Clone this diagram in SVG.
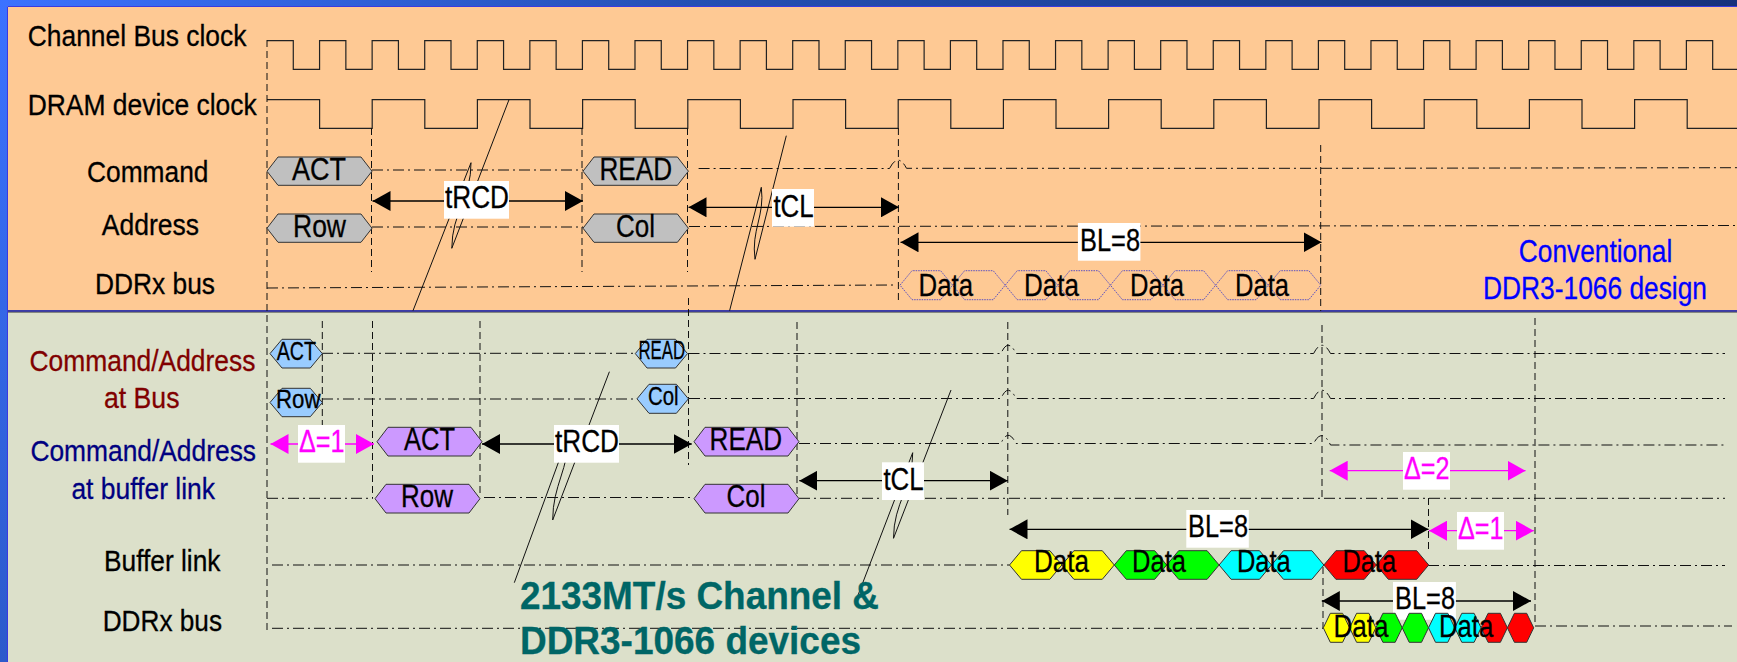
<svg xmlns="http://www.w3.org/2000/svg" width="1737" height="662" viewBox="0 0 1737 662">
<style>
text{font-family:"Liberation Sans",Arial,sans-serif;font-size:30px;fill:#000;stroke:#000;stroke-width:.3}
.s{font-size:32px}.m{font-size:25px}
.teal{font-size:38px;font-weight:bold;fill:#006666;stroke:#006666}
.mag{fill:#f0f;stroke:#f0f}
.dr{fill:#800000;stroke:#800000}
.nv{fill:#000080;stroke:#000080}
.bl{fill:#00f;stroke:#00f}
.clk{fill:none;stroke:#222;stroke-width:1.2}
.v{fill:none;stroke:#111;stroke-width:1;stroke-dasharray:7 4}
.h{fill:none;stroke:#111;stroke-width:1;stroke-dasharray:11 4 2 4}
.brk{fill:none;stroke:#111;stroke-width:1}
.arr{fill:none;stroke:#000;stroke-width:1.3;marker-start:url(#ah);marker-end:url(#ah)}
.amg{fill:none;stroke:#f0f;stroke-width:1.3;marker-start:url(#am);marker-end:url(#am)}
.hx{stroke:#333;stroke-width:1}
.g{fill:#c0c0c0}.b{fill:#99ccff}.p{fill:#cc99ff}
.y{fill:#ff0}.gr{fill:#0f0}.c{fill:#0ff}.r{fill:#f00}
.o{fill:none;stroke:#3333cc;stroke-width:.8;stroke-dasharray:1.5 1}
.w{fill:#fff}
</style>
<defs>
<marker id="ah" markerUnits="userSpaceOnUse" viewBox="0 0 18 20" refX="18" refY="10" markerWidth="18" markerHeight="20" orient="auto-start-reverse"><path d="M0,0L18,10L0,20Z" fill="#000"/></marker>
<marker id="am" markerUnits="userSpaceOnUse" viewBox="0 0 18 20" refX="18" refY="10" markerWidth="18" markerHeight="20" orient="auto-start-reverse"><path d="M0,0L18,10L0,20Z" fill="#f0f"/></marker>
<linearGradient id="bar" x1="0" x2="1" y1="0" y2="0"><stop offset="0" stop-color="#3b72ff"/><stop offset=".4" stop-color="#2450b4"/><stop offset="1" stop-color="#16327c"/></linearGradient>
<linearGradient id="side" x1="0" x2="0" y1="0" y2="1"><stop offset="0" stop-color="#3b72ff"/><stop offset="1" stop-color="#2c5acb"/></linearGradient>
</defs>

<g id="background">
<rect x="0" y="0" width="1737" height="662" fill="#dce0ca"/>
<rect x="8" y="7" width="1729" height="304" fill="#fec994"/>
<rect x="0" y="0" width="1737" height="6" fill="url(#bar)"/>
<rect x="0" y="0" width="7" height="662" fill="url(#side)"/>
<path d="M7.5,662V6.5H1737" fill="none" stroke="#3a3ae0" stroke-width="1"/>
<path d="M8,311H1737" fill="none" stroke="#3c3ca8" stroke-width="2"/>
<path d="M8,312.3H1737" fill="none" stroke="#555" stroke-width=".8"/>
</g>

<g id="connectors">
<path class="clk" d="M267,40.7h26.285v28.6h26.285v-28.6h26.285v28.6h26.285v-28.6h26.285v28.6h26.285v-28.6h26.285v28.6h26.285v-28.6h26.285v28.6h26.285v-28.6h26.285v28.6h26.285v-28.6h26.285v28.6h26.285v-28.6h26.285v28.6h26.285v-28.6h26.285v28.6h26.285v-28.6h26.285v28.6h26.285v-28.6h26.285v28.6h26.285v-28.6h26.285v28.6h26.285v-28.6h26.285v28.6h26.285v-28.6h26.285v28.6h26.285v-28.6h26.285v28.6h26.285v-28.6h26.285v28.6h26.285v-28.6h26.285v28.6h26.285v-28.6h26.285v28.6h26.285v-28.6h26.285v28.6h26.285v-28.6h26.285v28.6h26.285v-28.6h26.285v28.6h26.285v-28.6h26.285v28.6h26.285v-28.6h26.285v28.6h26.285v-28.6h26.285v28.6h26.285v-28.6h26.285v28.6h26.285v-28.6h26.285v28.6h26.285v-28.6h26.285v28.6h26.285v-28.6h26.285v28.6h30"/>
<path class="clk" d="M267,99.7h52.6v28.6h52.6v-28.6h52.6v28.6h52.6v-28.6h52.6v28.6h52.6v-28.6h52.6v28.6h52.6v-28.6h52.6v28.6h52.6v-28.6h52.6v28.6h52.6v-28.6h52.6v28.6h52.6v-28.6h52.6v28.6h52.6v-28.6h52.6v28.6h52.6v-28.6h52.6v28.6h52.6v-28.6h52.6v28.6h52.6v-28.6h52.6v28.6h52.6v-28.6h52.6v28.6h52.6v-28.6h52.6v28.6h52.6v-28.6h52.6v28.6h60"/>

<path class="v" d="M267,40V633"/>
<path class="v" d="M371.5,128V272"/>
<path class="v" d="M582,128V272"/>
<path class="v" d="M687.5,128V272"/>
<path class="v" d="M688.5,298V465"/>
<path class="v" d="M898.4,128V300"/>
<path class="v" d="M1320.7,145V311"/>
<path class="v" d="M322.3,321V435"/>
<path class="v" d="M372.5,321V498"/>
<path class="v" d="M480,321V497"/>
<path class="v" d="M797,322V498"/>
<path class="v" d="M1007.8,322V515"/>
<path class="v" d="M1322,325V500"/>
<path class="v" d="M1535,318V626"/>
<path class="v" d="M1428.5,498V552"/>
<path class="v" d="M1323,567V628"/>

<path class="h" d="M372,170H583"/>
<path class="h" d="M372,227H583"/>
<path class="h" d="M698.6,168.5H889.5Q898,152 906.5,168.3H1320.7L1737,167.7"/>
<path class="h" d="M689,226.5L1737,225.5"/>
<path class="h" d="M267,288L895,285"/>
<path class="h" d="M322,353.3H636"/>
<path class="h" d="M688.5,353.5H1001Q1008,337 1016,353.5H1313.6Q1322,337 1330.5,353.5H1725"/>
<path class="h" d="M322,399H638"/>
<path class="h" d="M689,398.5H1001Q1008,382 1016,398.5H1313.6Q1322,382 1330.5,398.5H1725"/>
<path class="h" d="M799,443.5H1001Q1008,427 1016,443.5H1313.6Q1322,427 1330.5,445H1725"/>
<path class="h" d="M267,498.3H373"/>
<path class="h" d="M484,497.5H694"/>
<path class="h" d="M799,498.3H1725"/>
<path class="h" d="M272,565H1009.6"/>
<path class="h" d="M1428,565.5H1725"/>
<path class="h" d="M272,628.3H1323"/>
<path class="h" d="M1535,626H1732"/>

<path class="brk" d="M509,99.7L451.8,248.3C451.8,213 471.4,197 471,162.7L413,310.7"/>
<path class="brk" d="M786.3,135.7L755,259.3C751,230 765,216 761.3,187.3L729.6,310.7"/>
<path class="brk" d="M609.4,371.7L552.7,520C552.7,485 569,469 568.7,434.3L514.3,582.7"/>
<path class="brk" d="M951,390L893.5,538.3C893.5,503 913,487 912.7,452.7L855.5,601.7"/>

<path class="arr" d="M372.5,201H583"/>
<path class="arr" d="M688.5,207.3H899"/>
<path class="arr" d="M900.5,242.3H1321.5"/>
<path class="amg" d="M270.5,444H374"/>
<path class="arr" d="M482,444H691.7"/>
<path class="arr" d="M799.3,480.7H1007.8"/>
<path class="arr" d="M1009.5,529.3H1428.5"/>
<path class="amg" d="M1329.7,470.7H1525.5"/>
<path class="amg" d="M1429,530.7H1533.8"/>
<path class="arr" d="M1321.8,601H1531"/>
</g>

<g id="label-channel-clock"><text x="27.7" y="45.7" textLength="218.7" lengthAdjust="spacingAndGlyphs">Channel Bus clock</text></g>
<g id="label-dram-clock"><text x="27.7" y="115" textLength="229" lengthAdjust="spacingAndGlyphs">DRAM device clock</text></g>
<g id="label-command"><text x="87" y="182" textLength="121.5" lengthAdjust="spacingAndGlyphs">Command</text></g>
<g id="label-address"><text x="101.8" y="235.3" textLength="97.2" lengthAdjust="spacingAndGlyphs">Address</text></g>
<g id="label-ddrx-top"><text x="95" y="294" textLength="120" lengthAdjust="spacingAndGlyphs">DDRx bus</text></g>
<g id="label-bus"><text class="dr" x="29.5" y="370.7" textLength="225.9" lengthAdjust="spacingAndGlyphs">Command/Address</text><text class="dr" x="104" y="408.3" textLength="75.5" lengthAdjust="spacingAndGlyphs">at Bus</text></g>
<g id="label-link"><text class="nv" x="30.4" y="460.7" textLength="225.6" lengthAdjust="spacingAndGlyphs">Command/Address</text><text class="nv" x="71.4" y="499" textLength="143.6" lengthAdjust="spacingAndGlyphs">at buffer link</text></g>
<g id="label-buffer"><text x="104" y="570.7" textLength="116.5" lengthAdjust="spacingAndGlyphs">Buffer link</text></g>
<g id="label-ddrx-bottom"><text x="102.7" y="630.7" textLength="119.3" lengthAdjust="spacingAndGlyphs">DDRx bus</text></g>

<g id="top-act"><polygon class="hx g" points="267,171.2 278,157 361,157 372,171.2 361,185.3 278,185.3"/><text class="s" x="292" y="180" textLength="54" lengthAdjust="spacingAndGlyphs">ACT</text></g>
<g id="top-row"><polygon class="hx g" points="267,228.2 278,214 361,214 372,228.2 361,242.3 278,242.3"/><text class="s" x="293" y="237" textLength="53" lengthAdjust="spacingAndGlyphs">Row</text></g>
<g id="top-read"><polygon class="hx g" points="583,171.2 594,157 677.4,157 688.4,171.2 677.4,185.3 594,185.3"/><text class="s" x="599.5" y="180" textLength="72.5" lengthAdjust="spacingAndGlyphs">READ</text></g>
<g id="top-col"><polygon class="hx g" points="583,228.2 594,214 677.4,214 688.4,228.2 677.4,242.3 594,242.3"/><text class="s" x="616" y="237" textLength="39" lengthAdjust="spacingAndGlyphs">Col</text></g>

<g id="top-data">
<polygon class="o" points="900,285.2 912,270.7 940.6,270.7 952.6,285.2 940.6,299.7 912,299.7"/>
<polygon class="o" points="952.6,285.2 964.6,270.7 993.2,270.7 1005.2,285.2 993.2,299.7 964.6,299.7"/>
<polygon class="o" points="1005.2,285.2 1017.2,270.7 1045.8,270.7 1057.8,285.2 1045.8,299.7 1017.2,299.7"/>
<polygon class="o" points="1057.8,285.2 1069.8,270.7 1098.4,270.7 1110.4,285.2 1098.4,299.7 1069.8,299.7"/>
<polygon class="o" points="1110.4,285.2 1122.4,270.7 1151,270.7 1163,285.2 1151,299.7 1122.4,299.7"/>
<polygon class="o" points="1163,285.2 1175,270.7 1203.6,270.7 1215.6,285.2 1203.6,299.7 1175,299.7"/>
<polygon class="o" points="1215.6,285.2 1227.6,270.7 1256.2,270.7 1268.2,285.2 1256.2,299.7 1227.6,299.7"/>
<polygon class="o" points="1268.2,285.2 1280.2,270.7 1308.8,270.7 1320.8,285.2 1308.8,299.7 1280.2,299.7"/>
<text class="s" x="918.5" y="296" textLength="54.5" lengthAdjust="spacingAndGlyphs">Data</text>
<text class="s" x="1024" y="296" textLength="55" lengthAdjust="spacingAndGlyphs">Data</text>
<text class="s" x="1130" y="296" textLength="54" lengthAdjust="spacingAndGlyphs">Data</text>
<text class="s" x="1235" y="296" textLength="54" lengthAdjust="spacingAndGlyphs">Data</text>
</g>

<g id="bus-act"><polygon class="hx b" points="270,353.6 282,339.3 310.3,339.3 322.3,353.6 310.3,368 282,368"/><text class="m" x="276.8" y="360" textLength="39.2" lengthAdjust="spacingAndGlyphs">ACT</text></g>
<g id="bus-row"><polygon class="hx b" points="270,402.5 282,388.3 310.3,388.3 322.3,402.5 310.3,416.7 282,416.7"/><text class="m" x="276" y="408.3" textLength="44.5" lengthAdjust="spacingAndGlyphs">Row</text></g>
<g id="bus-read"><polygon class="hx b" points="635.3,353.6 647,339.3 675.5,339.3 687.5,353.6 675.5,368 647,368"/><text class="m" x="638.4" y="359.3" textLength="46.6" lengthAdjust="spacingAndGlyphs">READ</text></g>
<g id="bus-col"><polygon class="hx b" points="637,398.8 649,384.3 676.4,384.3 688.4,398.8 676.4,413.3 649,413.3"/><text class="m" x="648" y="405" textLength="30.6" lengthAdjust="spacingAndGlyphs">Col</text></g>

<g id="link-act"><polygon class="hx p" points="377,441.7 388,427.3 471,427.3 482,441.7 471,456 388,456"/><text class="s" x="404" y="450" textLength="51" lengthAdjust="spacingAndGlyphs">ACT</text></g>
<g id="link-row"><polygon class="hx p" points="375,498.7 386,484.3 469,484.3 480,498.7 469,513 386,513"/><text class="s" x="401" y="507.3" textLength="52" lengthAdjust="spacingAndGlyphs">Row</text></g>
<g id="link-read"><polygon class="hx p" points="694,441.7 705,427.3 788,427.3 799,441.7 788,456 705,456"/><text class="s" x="709.6" y="450" textLength="72.4" lengthAdjust="spacingAndGlyphs">READ</text></g>
<g id="link-col"><polygon class="hx p" points="694,498.7 705,484.3 788,484.3 799,498.7 788,513 705,513"/><text class="s" x="726.5" y="506.7" textLength="38.9" lengthAdjust="spacingAndGlyphs">Col</text></g>

<g id="buffer-data">
<polygon class="hx y" points="1009.5,565 1021.5,550.7 1049.9,550.7 1061.9,565 1049.9,579.3 1021.5,579.3"/>
<polygon class="hx y" points="1061.9,565 1073.9,550.7 1102.3,550.7 1114.3,565 1102.3,579.3 1073.9,579.3"/>
<polygon class="hx gr" points="1114.3,565 1126.3,550.7 1154.7,550.7 1166.7,565 1154.7,579.3 1126.3,579.3"/>
<polygon class="hx gr" points="1166.7,565 1178.7,550.7 1207.1,550.7 1219.1,565 1207.1,579.3 1178.7,579.3"/>
<polygon class="hx c" points="1219.1,565 1231.1,550.7 1259.5,550.7 1271.5,565 1259.5,579.3 1231.1,579.3"/>
<polygon class="hx c" points="1271.5,565 1283.5,550.7 1311.9,550.7 1323.9,565 1311.9,579.3 1283.5,579.3"/>
<polygon class="hx r" points="1323.9,565 1335.9,550.7 1364.3,550.7 1376.3,565 1364.3,579.3 1335.9,579.3"/>
<polygon class="hx r" points="1376.3,565 1388.3,550.7 1416.7,550.7 1428.7,565 1416.7,579.3 1388.3,579.3"/>
<text class="s" x="1034" y="571.7" textLength="55" lengthAdjust="spacingAndGlyphs">Data</text>
<text class="s" x="1132" y="571.7" textLength="54" lengthAdjust="spacingAndGlyphs">Data</text>
<text class="s" x="1236.9" y="571.7" textLength="53.9" lengthAdjust="spacingAndGlyphs">Data</text>
<text class="s" x="1342.4" y="571.7" textLength="53.6" lengthAdjust="spacingAndGlyphs">Data</text>
</g>

<g id="arrow-labels">
<rect class="w" x="444" y="181" width="65" height="37.7"/><text class="s" x="445" y="208" textLength="64" lengthAdjust="spacingAndGlyphs">tRCD</text>
<rect class="w" x="772" y="189" width="42" height="37.7"/><text class="s" x="773.4" y="216.7" textLength="40.2" lengthAdjust="spacingAndGlyphs">tCL</text>
<rect class="w" x="1077.9" y="223" width="62.5" height="37.7"/><text class="s" x="1080" y="250.7" textLength="60" lengthAdjust="spacingAndGlyphs">BL=8</text>
<rect class="w" x="298" y="425" width="47" height="37.7"/><text class="s mag" x="299" y="452.3" textLength="45.5" lengthAdjust="spacingAndGlyphs">Δ=1</text>
<rect class="w" x="554" y="425" width="65" height="37.7"/><text class="s" x="555" y="452.3" textLength="64" lengthAdjust="spacingAndGlyphs">tRCD</text>
<rect class="w" x="882" y="462.3" width="42" height="37.7"/><text class="s" x="883.4" y="490" textLength="40.2" lengthAdjust="spacingAndGlyphs">tCL</text>
<rect class="w" x="1186.3" y="510" width="62.5" height="37.7"/><text class="s" x="1188" y="537.3" textLength="60" lengthAdjust="spacingAndGlyphs">BL=8</text>
<rect class="w" x="1403" y="452" width="47" height="37.7"/><text class="s mag" x="1404" y="479.3" textLength="45.5" lengthAdjust="spacingAndGlyphs">Δ=2</text>
<rect class="w" x="1457" y="512" width="47" height="37.7"/><text class="s mag" x="1458" y="539.3" textLength="45.5" lengthAdjust="spacingAndGlyphs">Δ=1</text>
<rect class="w" x="1393" y="582" width="62.9" height="37.7"/><text class="s" x="1395" y="609.3" textLength="60" lengthAdjust="spacingAndGlyphs">BL=8</text>
</g>

<g id="ddrx-data">
<polygon class="hx y" points="1323.3,627.8 1330.3,613.3 1342.6,613.3 1349.6,627.8 1342.6,642.3 1330.3,642.3"/>
<polygon class="hx y" points="1349.6,627.8 1356.6,613.3 1368.9,613.3 1375.9,627.8 1368.9,642.3 1356.6,642.3"/>
<polygon class="hx gr" points="1375.9,627.8 1382.9,613.3 1395.2,613.3 1402.2,627.8 1395.2,642.3 1382.9,642.3"/>
<polygon class="hx gr" points="1402.2,627.8 1409.2,613.3 1421.5,613.3 1428.5,627.8 1421.5,642.3 1409.2,642.3"/>
<polygon class="hx c" points="1428.5,627.8 1435.5,613.3 1447.8,613.3 1454.8,627.8 1447.8,642.3 1435.5,642.3"/>
<polygon class="hx c" points="1454.8,627.8 1461.8,613.3 1474.1,613.3 1481.1,627.8 1474.1,642.3 1461.8,642.3"/>
<polygon class="hx r" points="1481.1,627.8 1488.1,613.3 1500.4,613.3 1507.4,627.8 1500.4,642.3 1488.1,642.3"/>
<polygon class="hx r" points="1507.4,627.8 1514.4,613.3 1526.7,613.3 1533.7,627.8 1526.7,642.3 1514.4,642.3"/>
<text class="s" x="1333.4" y="636.7" textLength="55.1" lengthAdjust="spacingAndGlyphs">Data</text>
<text class="s" x="1439" y="636.7" textLength="54.3" lengthAdjust="spacingAndGlyphs">Data</text>
</g>

<g id="note-conventional">
<text class="s bl" x="1518.8" y="262.3" textLength="153.5" lengthAdjust="spacingAndGlyphs">Conventional</text>
<text class="s bl" x="1483" y="299.3" textLength="224" lengthAdjust="spacingAndGlyphs">DDR3-1066 design</text>
</g>
<g id="note-2133">
<text class="teal" x="520" y="609.3" textLength="359" lengthAdjust="spacingAndGlyphs">2133MT/s Channel &amp;</text>
<text class="teal" x="520" y="654.3" textLength="341" lengthAdjust="spacingAndGlyphs">DDR3-1066 devices</text>
</g>
</svg>
